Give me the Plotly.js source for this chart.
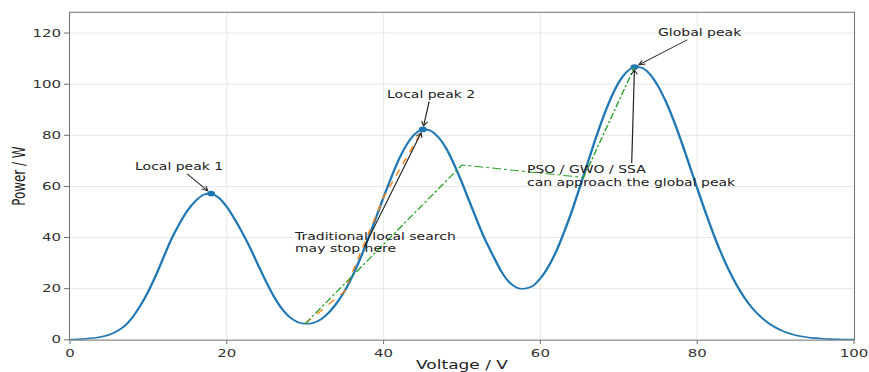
<!DOCTYPE html>
<html><head><meta charset="utf-8">
<script src="https://cdn.plot.ly/plotly-3.0.1.min.js"></script>
<style>
html,body{margin:0;padding:0;overflow:hidden;background:#fff;}
#wrap{width:869px;height:372px;overflow:hidden;}
#chart{width:869px;height:531px;transform:scale(1,0.7006);transform-origin:0 0;}
</style></head><body><div id="wrap"><div id="chart"></div></div>
<script>
// P-V curve samples (V, W)
const voltage = [0,1,2,3,4,5,6,7,8,9,10,11,12,13,14,15,16,17,18,19,20,21,22,23,24,25,26,27,28,29,30,31,32,33,34,35,36,37,38,39,40,41,42,43,44,45,46,47,48,49,50,51,52,53,54,55,56,57,58,59,60,61,62,63,64,65,66,67,68,69,70,71,72,73,74,75,76,77,78,79,80,81,82,83,84,85,86,87,88,89,90,91,92,93,94,95,96,97,98,99,100];
const power = [0.1,0.2,0.4,0.7,1.2,2.0,3.4,5.5,8.9,13.5,19.0,25.5,32.8,39.8,45.6,50.6,54.3,56.7,57.2,55.5,52.0,47.2,41.8,35.8,29.2,22.8,17.0,12.3,8.9,7.0,6.3,6.6,8.0,10.6,14.3,18.9,24.8,31.6,39.3,47.5,55.8,63.7,70.9,76.6,80.5,82.3,81.8,79.2,74.8,68.6,61.4,53.7,46.0,38.8,32.7,26.8,22.6,20.4,20.0,21.0,24.0,28.5,34.5,42.0,50.2,59.5,68.9,78.3,87.0,94.6,100.7,104.8,106.7,106.3,103.8,99.3,93.2,85.8,77.4,68.4,59.3,50.4,42.0,34.3,27.5,21.6,16.6,12.5,9.3,6.7,4.8,3.3,2.3,1.5,1.0,0.65,0.4,0.25,0.15,0.1,0.05];
// peaks
const peakV = [18, 45, 72];
const peakP = [57.2, 82.3, 106.7];
const peakLabels = ["Local peak 1", "Local peak 2", "Global peak"];
// traditional local search path
const localV = [30, 35, 40, 45];
const localP = [6.3, 18.9, 55.8, 82.3];
// PSO / GWO / SSA path
const swarmV = [30, 50, 65.5, 72];
const swarmP = [6.3, 68.4, 63.5, 106.7];
const xTicks = [0, 20, 40, 60, 80, 100];
const yTicks = [0, 20, 40, 60, 80, 100, 120];

const FONT = "DejaVu Sans";
const traces = [
  {x: voltage, y: power, mode: "lines", line: {color: "#1f77b4", width: 2.4, shape: "spline", smoothing: 0.7}, hoverinfo: "skip"},
  {x: peakV, y: peakP, mode: "markers", marker: {color: "#1f77b4", size: 8}},
  {x: localV, y: localP, mode: "lines", line: {color: "#ff7f0e", width: 1.5, dash: "dash"}},
  {x: swarmV, y: swarmP, mode: "lines", line: {color: "#2ca02c", width: 1.5, dash: "dashdot"}}
];

const annFont = {family: FONT, size: 14, color: "#222"};
const arrowBase = {showarrow: true, arrowhead: 5, arrowsize: 1, arrowwidth: 1.2, arrowcolor: "#222",
  axref: "x", ayref: "y", xref: "x", yref: "y", font: annFont, standoff: 4};
const annotations = [
  Object.assign({}, arrowBase, {x: peakV[0], y: peakP[0], ax: 13.9, ay: 67.6, text: peakLabels[0]}),
  Object.assign({}, arrowBase, {x: peakV[1], y: peakP[1], ax: 46.0, ay: 95.8, text: peakLabels[1]}),
  Object.assign({}, arrowBase, {x: peakV[2], y: peakP[2], ax: 80.4, ay: 120.0, text: peakLabels[2]}),
  Object.assign({}, arrowBase, {x: peakV[1], y: peakP[1], ax: 37.5, ay: 36.0, text: ""}),
  {xref: "x", yref: "y", x: 38.9, y: 38.1, showarrow: false, xanchor: "center", yanchor: "middle", align: "left",
   text: "Traditional local search<br>may stop here", font: annFont},
  Object.assign({}, arrowBase, {x: peakV[2], y: peakP[2], ax: 71.6, ay: 64.1, align: "left", standoff: 3,
   text: "PSO / GWO / SSA<br>can approach the global peak"})
];

const axisCommon = {showline: true, mirror: true, linecolor: "#555", linewidth: 1, ticks: "outside", ticklen: 5,
  tickcolor: "#555", tickwidth: 1, showgrid: true, gridcolor: "rgba(160,160,160,0.3)", gridwidth: 1, zeroline: false,
  ticklabeloverflow: "allow", tickfont: {family: FONT, size: 15, color: "#333"}};

const layout = {
  width: 869, height: 531,
  margin: {l: 70, r: 15, t: 18, b: 46},
  paper_bgcolor: "#fff", plot_bgcolor: "#fff",
  showlegend: false,
  xaxis: Object.assign({}, axisCommon, {range: [0, 100], tickvals: xTicks,
    title: {text: "Voltage / V", font: {family: FONT, size: 17, color: "#222"}, standoff: 5}}),
  yaxis: Object.assign({}, axisCommon, {range: [0, 128], tickvals: yTicks,
    title: {text: "Power / W", font: {family: FONT, size: 17, color: "#222"}, standoff: 2}}),
  annotations: annotations
};
Plotly.newPlot("chart", traces, layout, {displayModeBar: false, staticPlot: true});
</script></body></html>
